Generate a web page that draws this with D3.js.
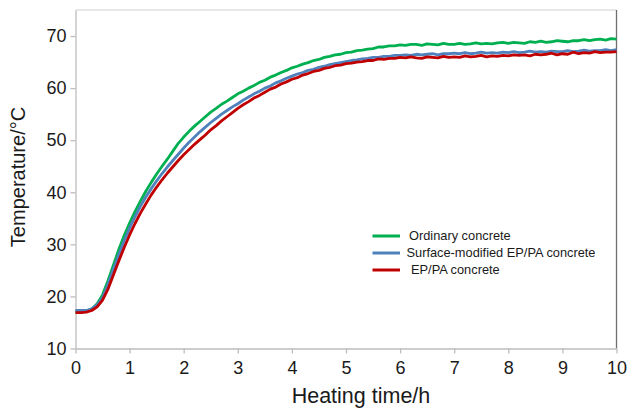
<!DOCTYPE html>
<html>
<head>
<meta charset="utf-8">
<script src="https://cdn.jsdelivr.net/npm/d3@7"></script>
<style>
  body { margin: 0; background: #fff; }
  svg { display: block; font-family: "Liberation Sans", Arial, sans-serif; }
</style>
</head>
<body>
<div id="chart"></div>
<script>
// heating time in hours, one sample every 0.1 h
const hours = [
  0, 0.1, 0.2, 0.3, 0.4, 0.5, 0.6, 0.7, 0.8, 0.9,
  1, 1.1, 1.2, 1.3, 1.4, 1.5, 1.6, 1.7, 1.8, 1.9,
  2, 2.1, 2.2, 2.3, 2.4, 2.5, 2.6, 2.7, 2.8, 2.9,
  3, 3.1, 3.2, 3.3, 3.4, 3.5, 3.6, 3.7, 3.8, 3.9,
  4, 4.1, 4.2, 4.3, 4.4, 4.5, 4.6, 4.7, 4.8, 4.9,
  5, 5.1, 5.2, 5.3, 5.4, 5.5, 5.6, 5.7, 5.8, 5.9,
  6, 6.1, 6.2, 6.3, 6.4, 6.5, 6.6, 6.7, 6.8, 6.9,
  7, 7.1, 7.2, 7.3, 7.4, 7.5, 7.6, 7.7, 7.8, 7.9,
  8, 8.1, 8.2, 8.3, 8.4, 8.5, 8.6, 8.7, 8.8, 8.9,
  9, 9.1, 9.2, 9.3, 9.4, 9.5, 9.6, 9.7, 9.8, 9.9,
  10
];

const ordinaryTemp = [
  17.1, 17.1, 17.2, 17.6, 18.6, 20.3, 23.0, 26.0, 29.0, 31.7,
  34.1, 36.3, 38.3, 40.2, 41.9, 43.5, 45.0, 46.4, 47.9, 49.4,
  50.6, 51.7, 52.7, 53.6, 54.5, 55.4, 56.1, 56.9, 57.5, 58.2,
  58.9, 59.4, 60.0, 60.5, 61.1, 61.5, 62.1, 62.5, 63.0, 63.4,
  63.9, 64.2, 64.6, 64.9, 65.3, 65.5, 65.9, 66.1, 66.4, 66.5,
  66.8, 66.9, 67.2, 67.3, 67.5, 67.6, 67.9, 67.9, 68.1, 68.1,
  68.3, 68.2, 68.4, 68.4, 68.2, 68.5, 68.4, 68.3, 68.6, 68.4,
  68.4, 68.6, 68.4, 68.5, 68.7, 68.5, 68.6, 68.5, 68.7, 68.8,
  68.6, 68.8, 68.7, 68.6, 68.9, 68.8, 69.0, 68.8, 68.9, 69.1,
  69.0, 68.9, 69.1, 69.1, 69.3, 69.1, 69.3, 69.4, 69.2, 69.5,
  69.4
];

const surfaceModTemp = [
  17.3, 17.3, 17.3, 17.6, 18.4, 19.8, 22.3, 25.2, 28.0, 30.7,
  33.1, 35.3, 37.3, 39.1, 40.7, 42.2, 43.6, 44.9, 46.1, 47.3,
  48.5, 49.6, 50.6, 51.6, 52.5, 53.4, 54.2, 55.0, 55.7, 56.4,
  57.0, 57.7, 58.3, 58.9, 59.4, 60.0, 60.4, 61.0, 61.4, 61.9,
  62.3, 62.7, 63.0, 63.4, 63.6, 64.0, 64.2, 64.5, 64.7, 64.9,
  65.1, 65.3, 65.4, 65.6, 65.7, 65.9, 65.9, 66.1, 66.1, 66.3,
  66.3, 66.4, 66.3, 66.5, 66.4, 66.5, 66.6, 66.4, 66.6, 66.6,
  66.7, 66.6, 66.8, 66.6, 66.7, 66.9, 66.7, 66.8, 66.7, 66.9,
  66.8, 67.0, 66.8, 66.9, 67.1, 66.9, 67.0, 66.9, 67.1, 67.0,
  67.0, 67.2, 67.0, 67.1, 67.3, 67.1, 67.2, 67.2, 67.4, 67.2,
  67.4
];

const epPaTemp = [
  16.9, 16.9, 17.0, 17.3, 18.0, 19.3, 21.4, 24.1, 26.8, 29.4,
  31.8, 34.0, 36.0, 37.8, 39.5, 41.0, 42.4, 43.7, 44.9, 46.1,
  47.2, 48.2, 49.2, 50.1, 51.0, 52.0, 52.8, 53.7, 54.5, 55.3,
  56.1, 56.8, 57.4, 58.1, 58.6, 59.2, 59.8, 60.2, 60.8, 61.2,
  61.7, 62.0, 62.5, 62.8, 63.2, 63.4, 63.8, 64.0, 64.3, 64.4,
  64.7, 64.8, 65.0, 65.1, 65.3, 65.3, 65.6, 65.5, 65.7, 65.7,
  65.9, 65.8, 66.0, 65.8, 65.7, 66.0, 65.9, 65.8, 66.1, 65.9,
  66.0, 65.9, 66.2, 66.0, 66.1, 66.3, 66.0, 66.2, 66.1, 66.3,
  66.2, 66.4, 66.3, 66.4, 66.2, 66.5, 66.4, 66.5, 66.7, 66.4,
  66.6, 66.5, 66.9, 66.6, 66.8, 66.7, 67.0, 66.8, 66.9, 66.9,
  67.0
];

const seriesNames = ["Ordinary concrete", "Surface-modified EP/PA concrete", "EP/PA concrete"];
const seriesColors = ["#00b050", "#4f81bd", "#c00000"];
const seriesValues = [ordinaryTemp, surfaceModTemp, epPaTemp];

const xTicks = [0, 1, 2, 3, 4, 5, 6, 7, 8, 9, 10];
const yTicks = [10, 20, 30, 40, 50, 60, 70];

const width = 628;
const height = 411;
const plotLeft = 75.5;
const plotRight = 616.5;
const plotTop = 10;
const plotBottom = 348.5;

const svg = d3
  .select("#chart")
  .append("svg")
  .attr("width", width)
  .attr("height", height);

const x = d3.scaleLinear().domain([0, 10]).range([plotLeft, plotRight]);
const y = d3.scaleLinear().domain([10, 75]).range([plotBottom, plotTop]);

// frame: top and right edges of the plot area
svg
  .append("line")
  .attr("x1", plotLeft)
  .attr("x2", plotRight)
  .attr("y1", plotTop)
  .attr("y2", plotTop)
  .attr("stroke", "#d0d0d0")
  .attr("stroke-width", 1);

svg
  .append("line")
  .attr("x1", plotRight)
  .attr("x2", plotRight)
  .attr("y1", plotTop)
  .attr("y2", plotBottom)
  .attr("stroke", "#6e6e6e")
  .attr("stroke-width", 1.3);

const xAxis = svg
  .append("g")
  .attr("transform", `translate(0, ${plotBottom})`)
  .call(d3.axisBottom(x).tickValues(xTicks).tickSize(5).tickPadding(8).tickSizeOuter(0));

const yAxis = svg
  .append("g")
  .attr("transform", `translate(${plotLeft}, 0)`)
  .call(d3.axisLeft(y).tickValues(yTicks).tickSize(5).tickPadding(4).tickSizeOuter(0));

[xAxis, yAxis].forEach((axis) => {
  axis.select(".domain").attr("stroke", "#bdbdbd").attr("stroke-width", 1.3);
  axis.selectAll(".tick line").attr("stroke", "#bdbdbd").attr("stroke-width", 1.3);
  axis
    .selectAll(".tick text")
    .attr("fill", "#1a1a1a")
    .attr("font-size", 18)
    .attr("font-family", "Liberation Sans, Arial, sans-serif");
});

const line = d3
  .line()
  .x((d) => x(d[0]))
  .y((d) => y(d[1]));

seriesValues.forEach((values, i) => {
  svg
    .append("path")
    .datum(hours.map((h, j) => [h, values[j]]))
    .attr("fill", "none")
    .attr("stroke", seriesColors[i])
    .attr("stroke-width", 2.8)
    .attr("stroke-linejoin", "round")
    .attr("d", line);
});

// axis titles
svg
  .append("text")
  .attr("x", 361)
  .attr("y", 403)
  .attr("text-anchor", "middle")
  .attr("font-size", 21.5)
  .attr("fill", "#1a1a1a")
  .text("Heating time/h");

svg
  .append("text")
  .attr("transform", "translate(25, 177) rotate(-90)")
  .attr("text-anchor", "middle")
  .attr("font-size", 20)
  .attr("fill", "#1a1a1a")
  .text("Temperature/°C");

// legend
const legendRowY = [236, 253, 270];
const legendTextX = [409, 406.5, 411];

const legend = svg.append("g");

legend
  .selectAll("line")
  .data(seriesNames)
  .enter()
  .append("line")
  .attr("x1", 372.5)
  .attr("x2", 400)
  .attr("y1", (d, i) => legendRowY[i])
  .attr("y2", (d, i) => legendRowY[i])
  .attr("stroke", (d, i) => seriesColors[i])
  .attr("stroke-width", 3);

legend
  .selectAll("text")
  .data(seriesNames)
  .enter()
  .append("text")
  .attr("x", (d, i) => legendTextX[i])
  .attr("y", (d, i) => legendRowY[i])
  .attr("dy", "0.35em")
  .attr("font-size", 12.8)
  .attr("fill", "#1a1a1a")
  .text((d) => d);
</script>
</body>
</html>
